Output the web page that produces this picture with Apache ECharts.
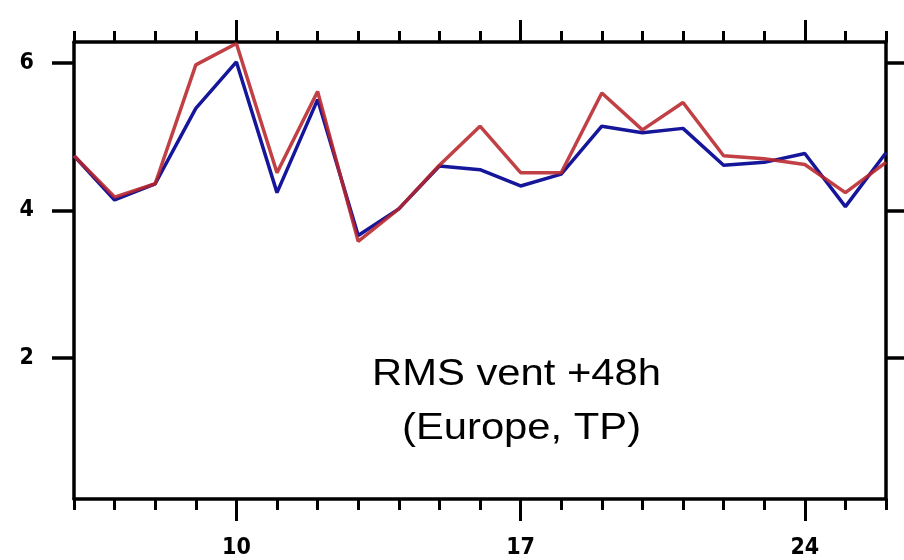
<!DOCTYPE html>
<html>
<head>
<meta charset="utf-8">
<script src="https://cdn.jsdelivr.net/npm/echarts@6/dist/echarts.min.js"></script>
<style>
  html, body { margin: 0; padding: 0; background: #ffffff; }
  #chart { width: 904px; height: 560px; }
</style>
</head>
<body>
<div id="chart"></div>
<script>
// Daily wind RMS error at +48h over Europe
const days = [6, 7, 8, 9, 10, 11, 12, 13, 14, 15, 16, 17, 18, 19, 20, 21, 22, 23, 24, 25, 26];
const rmsRed = [4.74, 4.18, 4.36, 5.97, 6.26, 4.51, 5.61, 3.58, 4.02, 4.61, 5.14, 4.51, 4.51, 5.59, 5.09, 5.46, 4.74, 4.70, 4.62, 4.24, 4.65];
const rmsBlue = [4.74, 4.14, 4.36, 5.38, 6.01, 4.24, 5.50, 3.66, 4.02, 4.60, 4.55, 4.33, 4.49, 5.14, 5.05, 5.11, 4.61, 4.65, 4.77, 4.05, 4.78];
const xLabelDays = [10, 17, 24];
const yLabelValues = [2, 4, 6];

const X_MIN = 6, X_MAX = 26, Y_MIN = 0.09, Y_MAX = 6.28;
const AXIS_COLOR = '#000000';
const tickFont = {
  color: '#000000',
  fontFamily: '"Liberation Sans Narrow", "DejaVu Sans Condensed", Arial, sans-serif',
  fontWeight: 'bold',
  fontSize: 23
};

function xAxisBase(position) {
  return {
    type: 'value', position: position, min: X_MIN, max: X_MAX,
    splitLine: { show: false }
  };
}

const chart = echarts.init(document.getElementById('chart'), null, { renderer: 'canvas' });

chart.setOption({
  animation: false,
  backgroundColor: '#ffffff',
  grid: { left: 74, right: 18, top: 42, bottom: 60, containLabel: false },
  xAxis: [
    // bottom: daily minor ticks + frame line
    Object.assign(xAxisBase('bottom'), {
      interval: 1,
      axisLine: { show: true, lineStyle: { color: AXIS_COLOR, width: 3.5 } },
      axisTick: { show: true, inside: false, length: 11, lineStyle: { color: AXIS_COLOR, width: 3 } },
      axisLabel: { show: false }
    }),
    // bottom: weekly major ticks with labels
    Object.assign(xAxisBase('bottom'), {
      axisLine: { show: false },
      axisTick: { show: true, inside: false, length: 22, customValues: xLabelDays, lineStyle: { color: AXIS_COLOR, width: 3 } },
      axisLabel: Object.assign({ show: true, margin: 38, customValues: xLabelDays }, tickFont)
    }),
    // top: daily minor ticks + frame line
    Object.assign(xAxisBase('top'), {
      interval: 1,
      axisLine: { show: true, lineStyle: { color: AXIS_COLOR, width: 3.5 } },
      axisTick: { show: true, inside: false, length: 11, lineStyle: { color: AXIS_COLOR, width: 3 } },
      axisLabel: { show: false }
    }),
    // top: weekly major ticks
    Object.assign(xAxisBase('top'), {
      axisLine: { show: false },
      axisTick: { show: true, inside: false, length: 22, customValues: xLabelDays, lineStyle: { color: AXIS_COLOR, width: 3 } },
      axisLabel: { show: false }
    })
  ],
  yAxis: [
    {
      type: 'value', position: 'left', min: Y_MIN, max: Y_MAX,
      splitLine: { show: false },
      axisLine: { show: true, lineStyle: { color: AXIS_COLOR, width: 3.5 } },
      axisTick: { show: true, inside: false, length: 22, customValues: yLabelValues, lineStyle: { color: AXIS_COLOR, width: 3.5 } },
      axisLabel: Object.assign({ show: true, margin: 40, customValues: yLabelValues }, tickFont)
    },
    {
      type: 'value', position: 'right', min: Y_MIN, max: Y_MAX,
      splitLine: { show: false },
      axisLine: { show: true, lineStyle: { color: AXIS_COLOR, width: 3.5 } },
      axisTick: { show: true, inside: false, length: 22, customValues: yLabelValues, lineStyle: { color: AXIS_COLOR, width: 3.5 } },
      axisLabel: { show: false }
    }
  ],
  series: [
    {
      name: 'blue', type: 'line', xAxisIndex: 0, yAxisIndex: 0,
      symbol: 'none', z: 2,
      lineStyle: { color: '#16169a', width: 3.5 },
      data: days.map((d, i) => [d, rmsBlue[i]])
    },
    {
      name: 'red', type: 'line', xAxisIndex: 0, yAxisIndex: 0,
      symbol: 'none', z: 3,
      lineStyle: { color: '#b8262b', width: 3.5, opacity: 0.88 },
      data: days.map((d, i) => [d, rmsRed[i]])
    }
  ],
  graphic: [
    {
      type: 'text', x: 372, y: 375, scaleX: 1.16, z: 10,
      style: {
        text: 'RMS vent +48h',
        font: '36px "Liberation Sans", Arial, sans-serif',
        fill: '#000000', textAlign: 'left', textVerticalAlign: 'middle'
      }
    },
    {
      type: 'text', x: 402, y: 429, scaleX: 1.16, z: 10,
      style: {
        text: '(Europe, TP)',
        font: '36px "Liberation Sans", Arial, sans-serif',
        fill: '#000000', textAlign: 'left', textVerticalAlign: 'middle'
      }
    }
  ]
});
</script>
</body>
</html>
